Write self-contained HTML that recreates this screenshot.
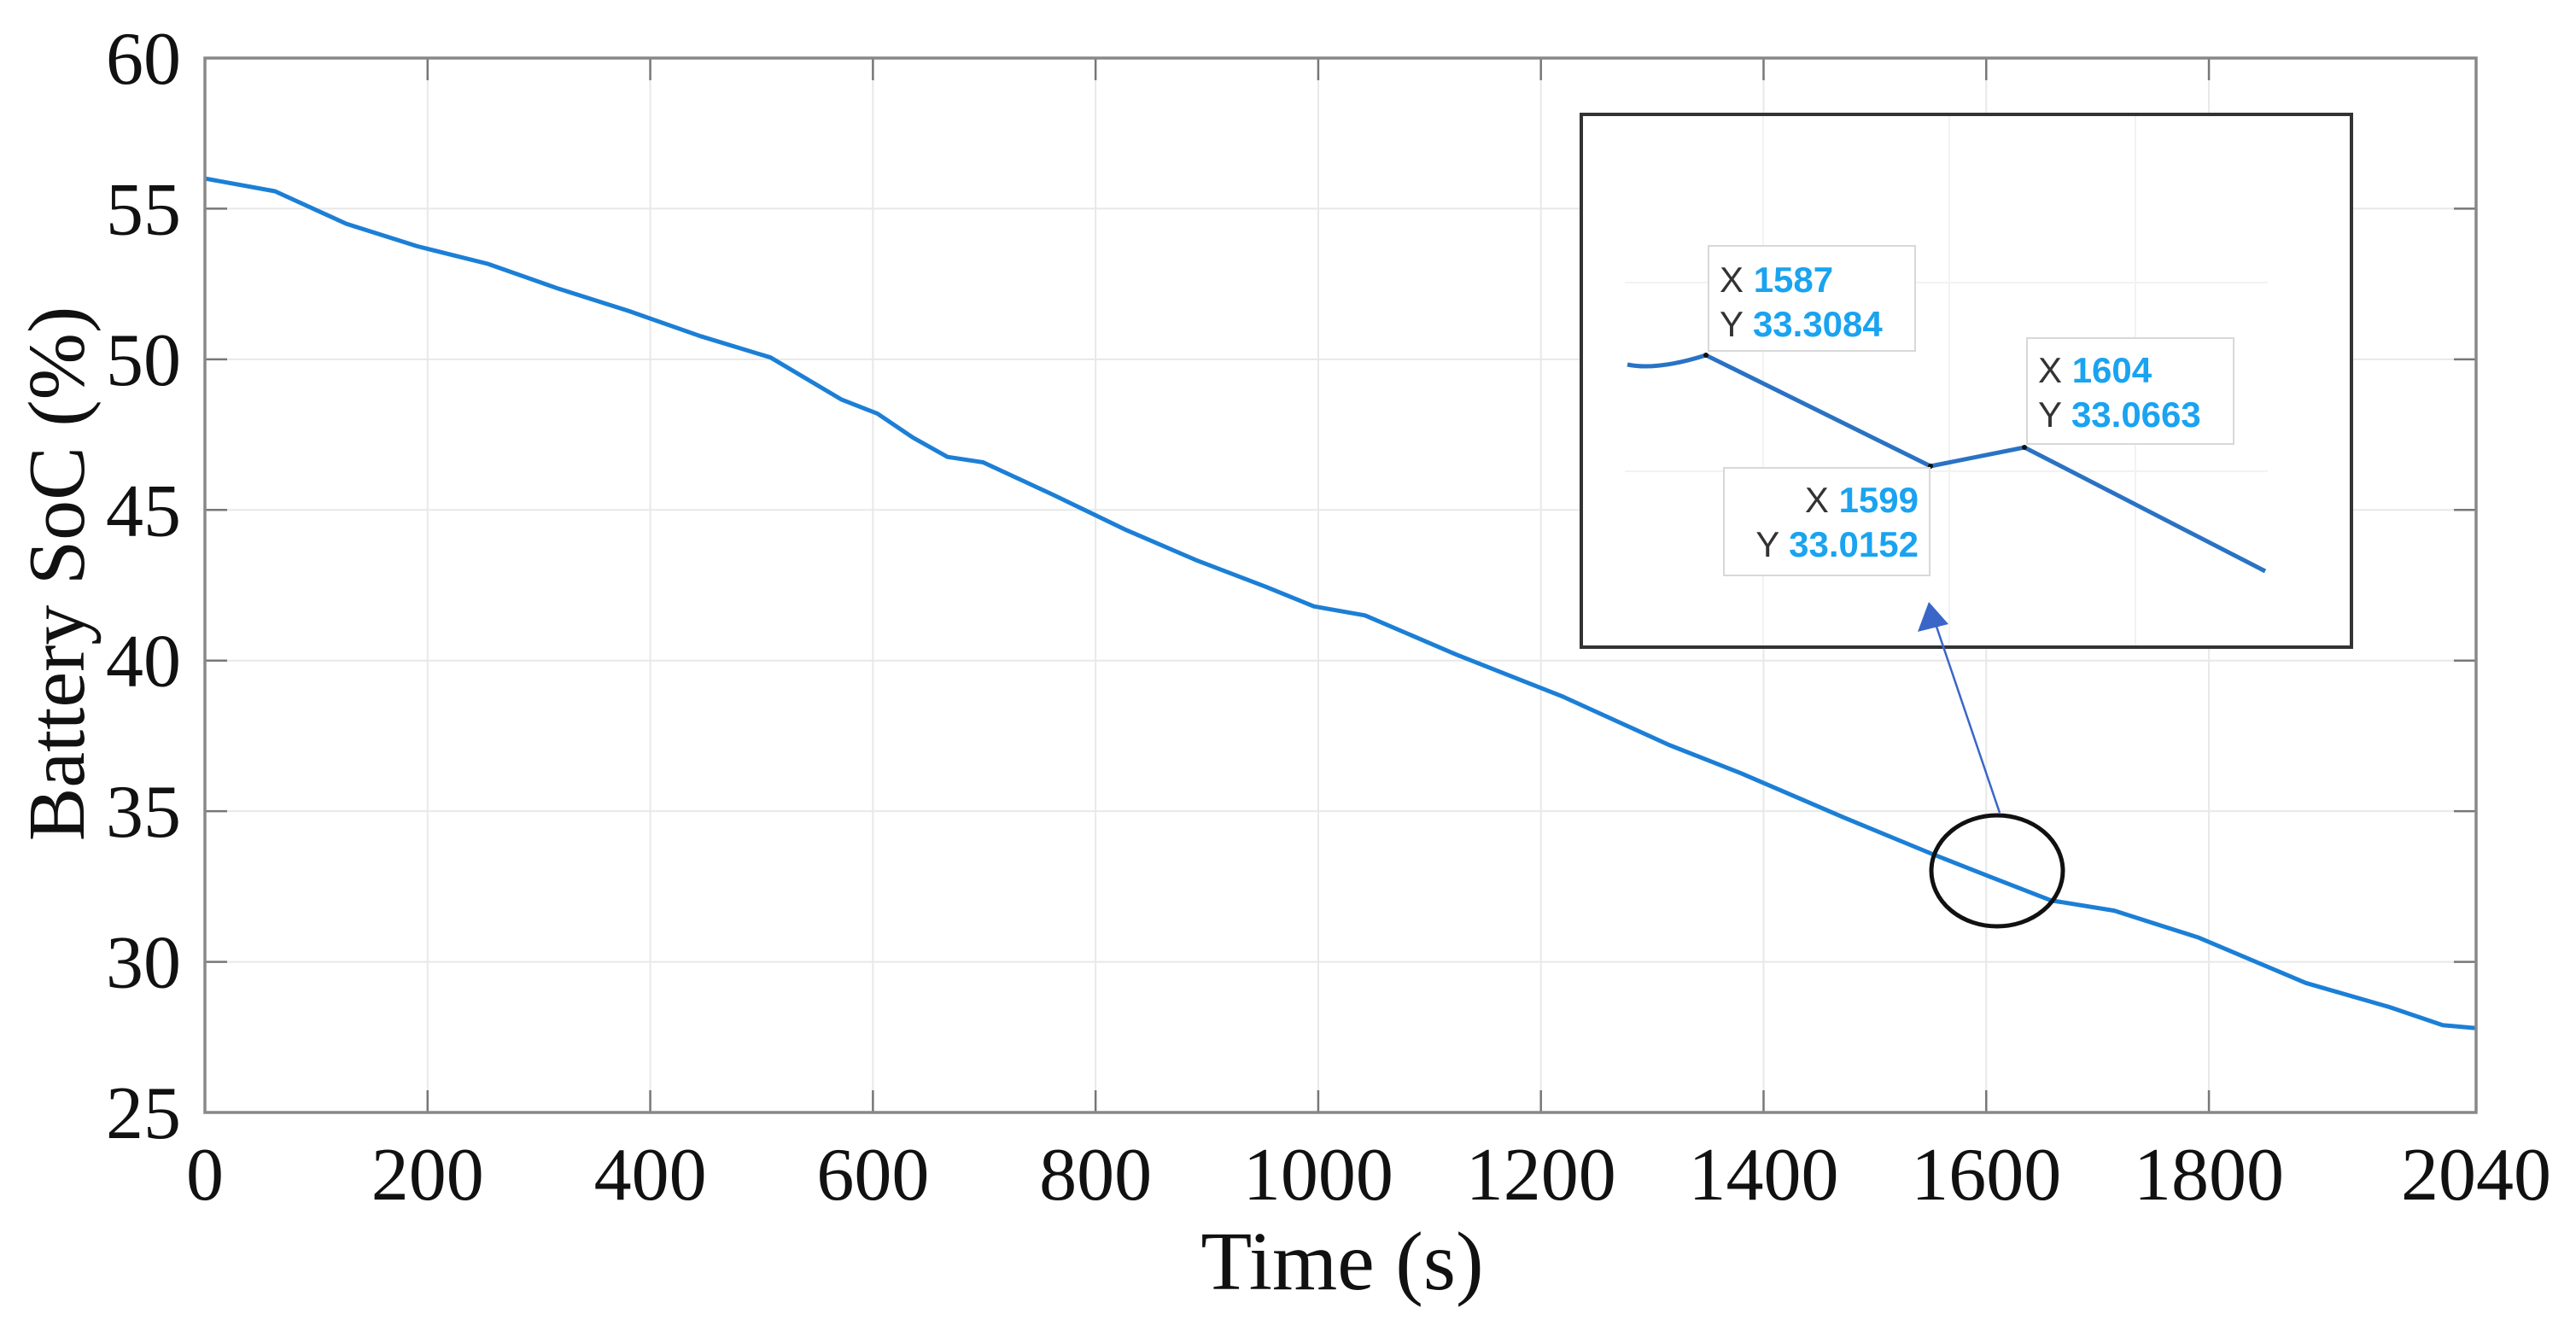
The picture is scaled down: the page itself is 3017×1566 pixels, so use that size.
<!DOCTYPE html>
<html><head><meta charset="utf-8"><title>Battery SoC vs Time</title>
<style>
html,body{margin:0;padding:0;background:#fff;width:3017px;height:1566px;overflow:hidden}
svg{display:block}
.tk{font-family:"Liberation Serif",serif;font-size:88px;fill:#111}
.ttl{font-family:"Liberation Serif",serif;font-size:98px;fill:#111}
.dk{font-family:"Liberation Sans",sans-serif;font-size:42px;fill:#333}
.dv{font-family:"Liberation Sans",sans-serif;font-size:42px;font-weight:bold;fill:#1aa3f0}
</style></head>
<body>
<svg id="chart" width="3017" height="1566" viewBox="0 0 3017 1566" xmlns="http://www.w3.org/2000/svg">
<g id="grid"></g>
<g id="series"></g>
<g id="axes"></g>
<text class="ttl" x="1572" y="1510" text-anchor="middle">Time (s)</text>
<text class="ttl" style="font-size:94px" transform="translate(98,672) rotate(-90)" text-anchor="middle">Battery SoC (%)</text>

<ellipse cx="2339" cy="1020" rx="77" ry="65" fill="none" stroke="#111" stroke-width="5"/>

<g id="inset">
<rect x="1852" y="134" width="902" height="624" fill="#fff" stroke="#333" stroke-width="4"/>
<line x1="2065" y1="136" x2="2065" y2="756" stroke="#f2f2f2" stroke-width="2"/>
<line x1="2283" y1="136" x2="2283" y2="756" stroke="#f2f2f2" stroke-width="2"/>
<line x1="2501" y1="136" x2="2501" y2="756" stroke="#f2f2f2" stroke-width="2"/>
<line x1="1903" y1="331" x2="2656" y2="331" stroke="#f2f2f2" stroke-width="2"/>
<line x1="1903" y1="552" x2="2656" y2="552" stroke="#f2f2f2" stroke-width="2"/>
<path d="M1906,427 C1930,432 1960,428 1998,416 L2261,546 L2371,524 L2653,669" fill="none" stroke="#2a72c4" stroke-width="5"/>
<circle cx="1998" cy="416" r="3" fill="#111"/>
<circle cx="2261" cy="546" r="3" fill="#111"/>
<circle cx="2371" cy="524" r="3" fill="#111"/>
<g>
<rect x="2001" y="288" width="242" height="123" fill="#fff" stroke="#d8d8d8" stroke-width="2"/>
<text x="2014" y="342"><tspan class="dk">X </tspan><tspan class="dv">1587</tspan></text>
<text x="2014" y="394"><tspan class="dk">Y </tspan><tspan class="dv">33.3084</tspan></text>
</g>
<g>
<rect x="2374" y="396" width="242" height="124" fill="#fff" stroke="#d8d8d8" stroke-width="2"/>
<text x="2387" y="448"><tspan class="dk">X </tspan><tspan class="dv">1604</tspan></text>
<text x="2387" y="500"><tspan class="dk">Y </tspan><tspan class="dv">33.0663</tspan></text>
</g>
<g>
<rect x="2019" y="548" width="241" height="126" fill="#fff" stroke="#d8d8d8" stroke-width="2"/>
<text x="2247" y="600" text-anchor="end"><tspan class="dk">X </tspan><tspan class="dv">1599</tspan></text>
<text x="2247" y="652" text-anchor="end"><tspan class="dk">Y </tspan><tspan class="dv">33.0152</tspan></text>
</g>
</g>
<line x1="2342" y1="952" x2="2266" y2="728" stroke="#3a66c8" stroke-width="2.5"/>
<polygon points="2259,705 2246,740 2282,731" fill="#3a66c8"/>
</svg>
<script>
const xTicks=[0,200,400,600,800,1000,1200,1400,1600,1800,2040];
const yTicks=[25,30,35,40,45,50,55,60];
const timeS=[0,63,127,191,254,318,381,445,508,572,604,636,667,699,762,826,890,953,996,1042,1124,1220,1315,1379,1474,1550,1601,1658,1715,1791,1887,1962,2010,2040];
const socPct=[56.0,55.58,54.5,53.75,53.17,52.34,51.6,50.77,50.06,48.66,48.2,47.4,46.76,46.58,45.5,44.36,43.34,42.45,41.8,41.5,40.2,38.8,37.2,36.27,34.76,33.6,32.86,32.04,31.7,30.8,29.3,28.5,27.9,27.8];

const L=240,R=2900,T=68,B=1303,X0=0,X1=2040,Y0=25,Y1=60;
const NS='http://www.w3.org/2000/svg';
function sx(v){return L+(v-X0)/(X1-X0)*(R-L);}
function sy(v){return B-(v-Y0)/(Y1-Y0)*(B-T);}
function mk(tag,attrs,parent){const e=document.createElementNS(NS,tag);for(const k in attrs)e.setAttribute(k,attrs[k]);parent.appendChild(e);return e;}
const grid=document.getElementById('grid'),axes=document.getElementById('axes'),series=document.getElementById('series');
xTicks.forEach(v=>{
  const g=mk('line',{x1:sx(v),x2:sx(v),y1:T,y2:B,stroke:'#e8e8e8','stroke-width':2},grid);
  
  
  const t1=mk('line',{x1:sx(v),x2:sx(v),y1:B,y2:B-26,stroke:'#777','stroke-width':2.5},axes);
  
  
  const t2=mk('line',{x1:sx(v),x2:sx(v),y1:T,y2:T+26,stroke:'#777','stroke-width':2.5},axes);
  
  
  const lb=mk('text',{x:sx(v),y:1405,'text-anchor':'middle',class:'tk'},axes);
  lb.textContent=v;
  
  
});
yTicks.forEach(v=>{
  const g=mk('line',{x1:L,x2:R,y1:sy(v),y2:sy(v),stroke:'#e8e8e8','stroke-width':2},grid);
  
  
  const t1=mk('line',{x1:L,x2:L+26,y1:sy(v),y2:sy(v),stroke:'#777','stroke-width':2.5},axes);
  
  
  const t2=mk('line',{x1:R,x2:R-26,y1:sy(v),y2:sy(v),stroke:'#777','stroke-width':2.5},axes);
  
  
  const lb=mk('text',{x:212,y:sy(v)+30,'text-anchor':'end',class:'tk'},axes);
  lb.textContent=v;
  
  
});
const box=mk('rect',{x:L,y:T,width:R-L,height:B-T,fill:'none',stroke:'#888','stroke-width':3.5},axes);


let d='';
timeS.forEach((t,i)=>{d+=(i?'L':'M')+sx(t).toFixed(1)+','+sy(socPct[i]).toFixed(1);});
const p=mk('path',{d:d,fill:'none',stroke:'#1c7fd6','stroke-width':5,'stroke-linejoin':'round'},series);


</script>
</body></html>
